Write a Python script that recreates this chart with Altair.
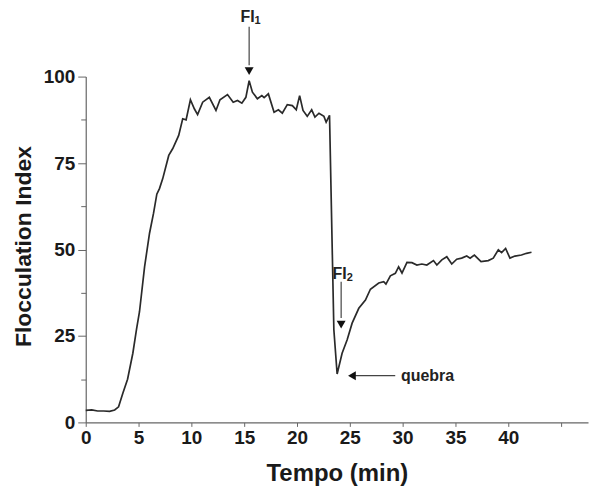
import altair as alt
import pandas as pd

# ---- data ----
time_min = [0.0, 0.57, 1.13, 1.7, 2.26, 2.74, 3.11, 3.52, 3.96, 4.46, 4.81, 5.09, 5.57, 6.04,
            6.42, 6.73, 6.98, 7.29, 7.86, 8.24, 8.8, 9.18, 9.5, 9.91, 10.28, 10.59, 11.07,
            11.7, 12.33, 12.71, 13.42, 13.96, 14.37, 14.78, 15.16, 15.47, 15.78, 16.25,
            16.67, 16.89, 17.29, 17.83, 18.24, 18.61, 19.08, 19.56, 19.93, 20.25, 20.57,
            20.97, 21.39, 21.7, 22.08, 22.55, 22.76, 23.08, 23.49, 23.8, 24.27, 24.75,
            25.22, 25.85, 26.48, 26.95, 27.74, 28.21, 28.42, 28.84, 29.31, 29.62, 29.94,
            30.41, 30.88, 31.35, 31.82, 32.29, 32.92, 33.24, 33.71, 34.18, 34.65, 35.12,
            35.59, 36.07, 36.39, 36.79, 37.42, 38.11, 38.58, 39.06, 39.37, 39.75, 40.16,
            40.63, 41.25, 41.73, 42.2]
flocc_index = [3.5, 3.6, 3.3, 3.3, 3.2, 3.6, 4.5, 8.5, 12.5, 20, 27, 32, 45, 54.7,
               60.5, 66, 67.6, 70.5, 77.2, 79.2, 83, 87.8, 87.5, 93.3, 90.7, 89, 92.6,
               94, 90.2, 93.3, 94.8, 92.6, 93.1, 92.3, 94, 98.8, 95.5, 93.6,
               94.5, 93.9, 95, 89.7, 90.4, 89.4, 91.9, 91.6, 90.4, 94.5, 90.2,
               88.5, 90.4, 88.3, 89.4, 88.5, 86.8, 88.8, 26.8, 14.0, 20, 23.9,
               28.7, 33, 35.4, 38.5, 40.3, 40.7, 40, 42.4, 43.1, 45, 43.2,
               46.3, 46.2, 45.5, 45.8, 45.5, 46.8, 45.5, 47, 47.9, 45.8, 47.2,
               47.5, 48.1, 47.5, 48.4, 46.5, 46.8, 47.5, 49.9, 49.1, 50.3, 47.5,
               48.1, 48.4, 48.9, 49.2]

x_ticks = [i * 2.5 for i in range(20)]
y_ticks = [0, 12.5, 25, 37.5, 50, 62.5, 75, 87.5, 100]

# annotations: "FI" labels with subscripts, and the "quebra" label
fi_text = ["FI", "FI"]
fi_sub = ["1", "2"]
fi_t = [15.7, 24.43]
fi_v = [117.1, 42.9]

brk_text = ["quebra"]
brk_t = [29.85]
brk_v = [13.3]

arrow_t = [15.47, 24.18, 25.5]
arrow_t2 = [15.47, 24.18, 29.3]
arrow_v = [114.4, 40.7, 13.5]
arrow_v2 = [103.3, 30.2, 13.5]

head_t = [15.47, 24.18, 25.2]
head_v = [101.6, 28.3, 13.5]
head_shape = ["triangle-down", "triangle-down", "triangle-left"]

curve = pd.DataFrame({"t": time_min, "fi": flocc_index})
fi_df = pd.DataFrame({"text": fi_text, "sub": fi_sub, "t": fi_t, "v": fi_v})
brk_df = pd.DataFrame({"text": brk_text, "t": brk_t, "v": brk_v})
arrows = pd.DataFrame({"t": arrow_t, "t2": arrow_t2, "v": arrow_v, "v2": arrow_v2})
heads = pd.DataFrame({"t": head_t, "v": head_v, "shape": head_shape})

FONT = "Liberation Sans"
XMAX = 47.55

x_enc = alt.X(
    "t:Q",
    scale=alt.Scale(domain=[0, XMAX], nice=False, zero=False),
    axis=alt.Axis(
        title="Tempo (min)",
        values=x_ticks,
        labelExpr="(datum.value % 5 === 0 && datum.value <= 40) ? datum.label : ''",
        tickSize=alt.ExprRef("datum.value % 5 === 0 ? 4 : 3"),
        labelPadding=2,
        titlePadding=14,
        grid=False,
    ),
)
y_enc = alt.Y(
    "fi:Q",
    scale=alt.Scale(domain=[0, 100], nice=False),
    axis=alt.Axis(
        title="Flocculation Index",
        values=y_ticks,
        labelExpr="datum.value % 25 === 0 ? datum.label : ''",
        tickSize=alt.ExprRef("datum.value % 25 === 0 ? 8 : 5"),
        labelPadding=3,
        titleX=-62,
        titleY=170,
        titleAngle=270,
        titleAlign="center",
        titleBaseline="middle",
        titleFontSize=23,
        grid=False,
    ),
)

line = alt.Chart(curve).mark_line(color="#2a2a2a", strokeWidth=1.7).encode(x=x_enc, y=y_enc)

fi_main = alt.Chart(fi_df).mark_text(
    font=FONT, fontWeight="bold", fontSize=16, color="#222222",
    baseline="middle", align="right", dx=3
).encode(x="t:Q", y="v:Q", text="text:N")

fi_subs = alt.Chart(fi_df).mark_text(
    font=FONT, fontWeight="bold", fontSize=11, color="#222222",
    baseline="middle", align="left", dx=3, dy=4
).encode(x="t:Q", y="v:Q", text="sub:N")

brk = alt.Chart(brk_df).mark_text(
    font=FONT, fontWeight="bold", fontSize=16, color="#222222", baseline="middle", align="left"
).encode(x="t:Q", y="v:Q", text="text:N")

rules = alt.Chart(arrows).mark_rule(color="#444444", strokeWidth=1.2).encode(
    x="t:Q", x2="t2:Q", y="v:Q", y2="v2:Q"
)

pts = alt.Chart(heads).mark_point(filled=True, color="#111111", size=80, opacity=1).encode(
    x="t:Q", y="v:Q", shape=alt.Shape("shape:N", scale=None, legend=None)
)

chart = alt.layer(line, rules, pts, fi_main, fi_subs, brk).properties(
    width=504,
    height=347,
    autosize="none",
    padding={"left": 78, "top": 68, "right": 2, "bottom": 66},
).configure_view(stroke=None).configure_axis(
    domainColor="#666666",
    tickColor="#666666",
    domainWidth=1.2,
    labelFont=FONT,
    labelFontWeight="bold",
    labelFontSize=19,
    labelColor="#1a1a1a",
    titleFont=FONT,
    titleFontWeight="bold",
    titleFontSize=24,
    titleColor="#1a1a1a",
    labelFlush=False,
    labelOverlap=False,
)

chart.save("out.html", embed_options={"renderer": "svg", "actions": False})
